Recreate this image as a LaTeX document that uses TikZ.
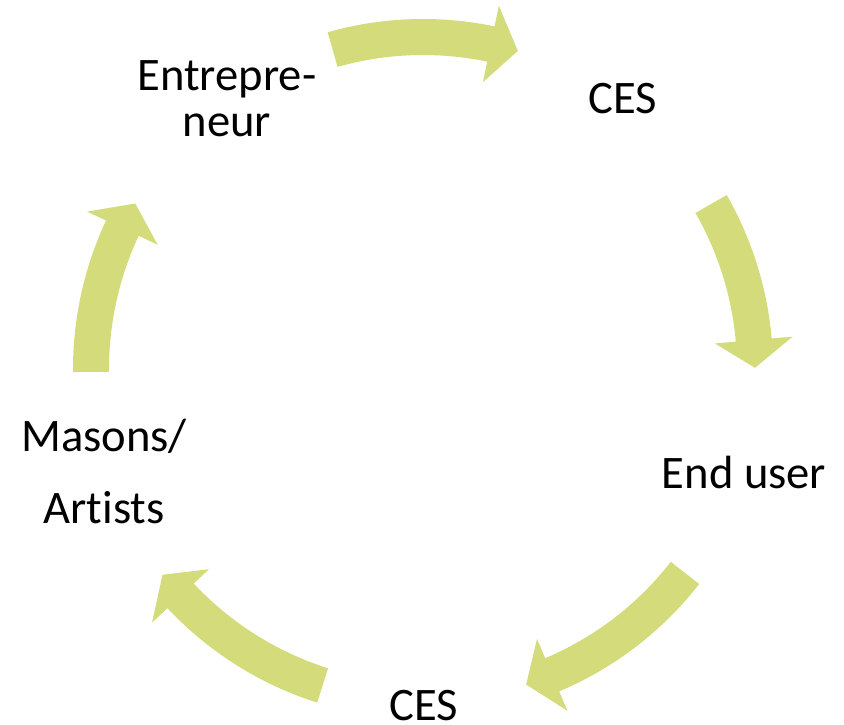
\documentclass[tikz,border=0pt]{standalone}
\usepackage{fontspec}
\setmainfont[Ligatures=NoCommon]{Carlito}
\definecolor{arrowgreen}{RGB}{211,219,122}
\tikzset{
  cyclearrow/.style={fill=arrowgreen, draw=none},
  lbl/.style={font=\fontsize{46.6}{46}\selectfont, text=black, inner sep=0pt, anchor=base},
}
% #1 tail angle, #2 tip angle (clockwise)
\newcommand\cyclearrowpath[3]{%
  \fill[cyclearrow] (#1:350pt) arc[start angle=#1, end angle=#2+4.8, radius=350pt]
    -- (#2+4.8:371pt) -- (#2:332pt) -- (#2+4.8:293pt) -- (#2+4.8:314pt)
    arc[start angle=#2+4.8, end angle=#1, radius=314pt] -- cycle;
  \coordinate (#3) at (#2:332pt);
}
\begin{document}
\begin{tikzpicture}[x=1pt,y=1pt]
\useasboundingbox (0,0) rectangle (844,724);
\begin{scope}[shift={(423,355)}]
  \cyclearrowpath{105.8}{73.4}{a1}
  \cyclearrowpath{29.8}{0.2}{a2}
  \cyclearrowpath{-37.9}{-71.9}{a3}
  \cyclearrowpath{-107.6}{-141.7}{a4}
  \cyclearrowpath{180.5}{150.1}{a5}
\end{scope}
\node[lbl] (ent1) at (227,633.3) {Entrepre-};
\node[lbl] (ent2) at (227,587.3) {neur};
\node[lbl] (ces1) at (623,610.7) {CES};
\node[lbl] (end) at (744,235.7) {End user};
\node[lbl] (ces2) at (424,4) {CES};
\node[lbl] (mas1) at (104,272.3) {Masons/};
\node[lbl] (mas2) at (104,200.7) {Artists};
\end{tikzpicture}
\end{document}
